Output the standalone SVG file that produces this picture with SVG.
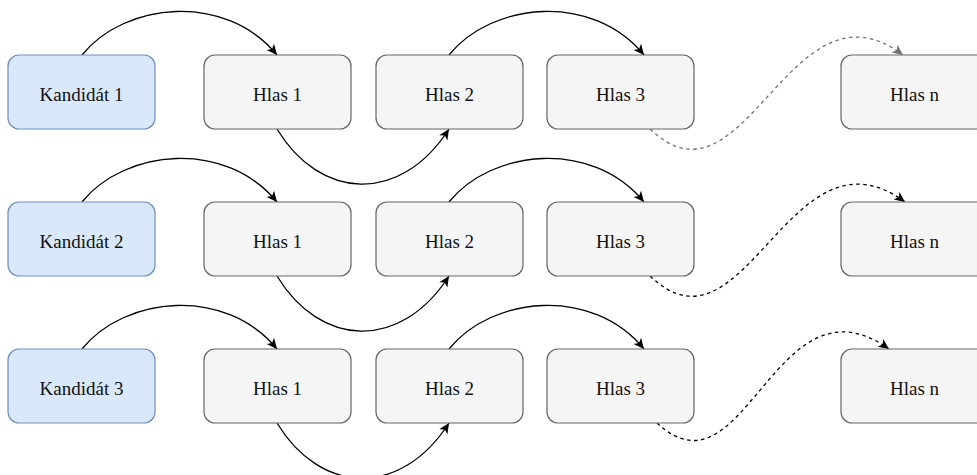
<svg xmlns="http://www.w3.org/2000/svg" width="977" height="475" viewBox="0 0 977 475">
<defs>
<style>
.cand rect{fill:#dae8fc;stroke:#6c8ebf;stroke-width:1.2}
.vote rect{fill:#f5f5f5;stroke:#666666;stroke-width:1.2}
text{font-family:"Liberation Serif","Times New Roman",serif;font-size:19px;fill:#111;text-anchor:middle}
.edge{fill:none;stroke:#000;stroke-width:1.3}
.dash{stroke-dasharray:3.5,3.5}
.gray{stroke:#707070}
</style>
<marker id="ah" viewBox="-11 -6 12 12" refX="0" refY="0" markerWidth="12" markerHeight="12" markerUnits="userSpaceOnUse" orient="auto">
<path d="M0,0 L-10.5,-4.8 L-7.8,0 L-10.5,4.8 Z" fill="#000"/>
</marker>
<marker id="ahg" viewBox="-11 -6 12 12" refX="0" refY="0" markerWidth="12" markerHeight="12" markerUnits="userSpaceOnUse" orient="auto">
<path d="M0,0 L-10.5,-4.8 L-7.8,0 L-10.5,4.8 Z" fill="#707070"/>
</marker>
</defs>
<rect width="977" height="475" fill="#ffffff"/>
<g id="connectors">
<path class="edge" d="M82,55 C125,2 225,-8 277,55" marker-end="url(#ah)"/>
<path class="edge" d="M277,129 C320,200 400,205 449,129" marker-end="url(#ah)"/>
<path class="edge" d="M449,55 C492,2 592,-8 644,55" marker-end="url(#ah)"/>
<path class="edge dash gray" d="M650,129 C745,220 790,-30 903,55" marker-end="url(#ahg)"/>

<path class="edge" d="M82,202 C125,149 225,139 277,202" marker-end="url(#ah)"/>
<path class="edge" d="M277,276 C320,347 400,352 449,276" marker-end="url(#ah)"/>
<path class="edge" d="M449,202 C492,149 592,139 644,202" marker-end="url(#ah)"/>
<path class="edge dash" d="M650,276 C745,367 790,117 905,202" marker-end="url(#ah)"/>

<path class="edge" d="M82,349 C125,296 225,286 277,349" marker-end="url(#ah)"/>
<path class="edge" d="M277,423 C320,494 400,499 449,423" marker-end="url(#ah)"/>
<path class="edge" d="M449,349 C492,296 592,286 644,349" marker-end="url(#ah)"/>
<path class="edge dash" d="M657,423 C745,505 775,268 889,349" marker-end="url(#ah)"/>
</g>
<g id="kandidat1" class="cand"><rect x="8" y="55" width="147" height="74" rx="11"/><text x="81.5" y="101">Kandidát 1</text></g>
<g id="r1hlas1" class="vote"><rect x="204" y="55" width="147" height="74" rx="11"/><text x="277.5" y="101">Hlas 1</text></g>
<g id="r1hlas2" class="vote"><rect x="376" y="55" width="147" height="74" rx="11"/><text x="449.5" y="101">Hlas 2</text></g>
<g id="r1hlas3" class="vote"><rect x="547" y="55" width="147" height="74" rx="11"/><text x="620.5" y="101">Hlas 3</text></g>
<g id="r1hlasn" class="vote"><rect x="841" y="55" width="147" height="74" rx="11"/><text x="914.5" y="101">Hlas n</text></g>

<g id="kandidat2" class="cand"><rect x="8" y="202" width="147" height="74" rx="11"/><text x="81.5" y="248">Kandidát 2</text></g>
<g id="r2hlas1" class="vote"><rect x="204" y="202" width="147" height="74" rx="11"/><text x="277.5" y="248">Hlas 1</text></g>
<g id="r2hlas2" class="vote"><rect x="376" y="202" width="147" height="74" rx="11"/><text x="449.5" y="248">Hlas 2</text></g>
<g id="r2hlas3" class="vote"><rect x="547" y="202" width="147" height="74" rx="11"/><text x="620.5" y="248">Hlas 3</text></g>
<g id="r2hlasn" class="vote"><rect x="841" y="202" width="147" height="74" rx="11"/><text x="914.5" y="248">Hlas n</text></g>

<g id="kandidat3" class="cand"><rect x="8" y="349" width="147" height="74" rx="11"/><text x="81.5" y="395">Kandidát 3</text></g>
<g id="r3hlas1" class="vote"><rect x="204" y="349" width="147" height="74" rx="11"/><text x="277.5" y="395">Hlas 1</text></g>
<g id="r3hlas2" class="vote"><rect x="376" y="349" width="147" height="74" rx="11"/><text x="449.5" y="395">Hlas 2</text></g>
<g id="r3hlas3" class="vote"><rect x="547" y="349" width="147" height="74" rx="11"/><text x="620.5" y="395">Hlas 3</text></g>
<g id="r3hlasn" class="vote"><rect x="841" y="349" width="147" height="74" rx="11"/><text x="914.5" y="395">Hlas n</text></g>
</svg>
